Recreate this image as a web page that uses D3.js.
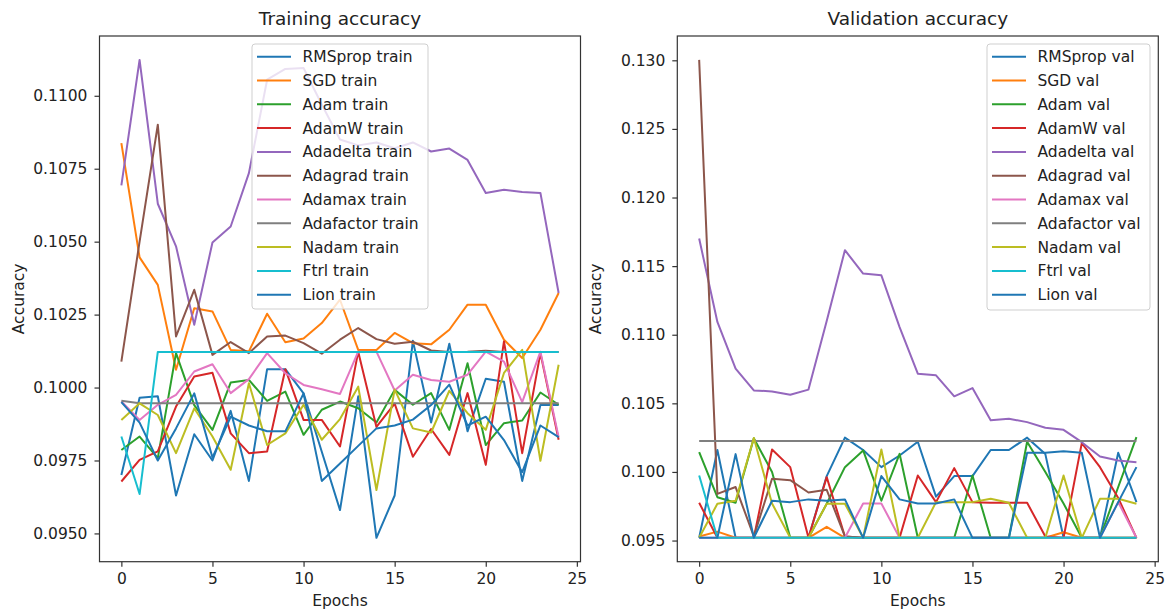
<!DOCTYPE html>
<html>
<head>
<meta charset="utf-8">
<script src="https://cdn.jsdelivr.net/npm/d3@7/dist/d3.min.js"></script>
<style>
    body { margin: 0; background: #fff; }
    svg { font-family: 'DejaVu Sans', sans-serif; }
    .series { fill: none; stroke-width: 2; stroke-linejoin: round; }
    .frame { fill: none; stroke: #333; stroke-width: 1.2; }
    .axis text { font-size: 15.5px; fill: #222; font-family: 'DejaVu Sans', sans-serif; }
    .axis line { stroke: #333; stroke-width: 1.2; }
    .legend-box { fill: #fff; fill-opacity: 0.8; stroke: #cfcfcf; stroke-width: 1; }
    .legend text { font-size: 15.5px; fill: #222; }
</style>
</head>
<body>
<svg id="chart" width="1167" height="613"></svg>
<script>
var epochs = d3.range(25);
var optimizers = ['RMSprop', 'SGD', 'Adam', 'AdamW', 'Adadelta', 'Adagrad', 'Adamax', 'Adafactor', 'Nadam', 'Ftrl', 'Lion'];

var rmspropTrain = [0.0970, 0.09965, 0.0997, 0.0963, 0.0984, 0.0975, 0.0992, 0.0968, 0.10063, 0.10063, 0.0998, 0.0978, 0.0958, 0.0997, 0.09485, 0.0963, 0.1016, 0.0988, 0.1015, 0.0985, 0.1003, 0.1002, 0.0968, 0.0994, 0.0994];
var sgdTrain = [0.10838, 0.10446, 0.10352, 0.10061, 0.10272, 0.10261, 0.10129, 0.10124, 0.10253, 0.10155, 0.10168, 0.10221, 0.10301, 0.10129, 0.10129, 0.10187, 0.10152, 0.10148, 0.10198, 0.10284, 0.10284, 0.10164, 0.10101, 0.10198, 0.10324];
var adamTrain = [0.09786, 0.09832, 0.09758, 0.10118, 0.0994, 0.09855, 0.10017, 0.10026, 0.09954, 0.09986, 0.09838, 0.09924, 0.09952, 0.09929, 0.0988, 0.09992, 0.09941, 0.09981, 0.09855, 0.10083, 0.09803, 0.09878, 0.09887, 0.09983, 0.09941];
var adamwTrain = [0.09678, 0.09752, 0.09781, 0.09935, 0.10038, 0.10051, 0.09843, 0.09775, 0.09781, 0.10063, 0.09889, 0.09889, 0.09798, 0.10123, 0.09865, 0.09945, 0.09763, 0.09858, 0.09769, 0.09981, 0.09735, 0.10158, 0.09775, 0.10118, 0.09821];
var adadeltaTrain = [0.10693, 0.11123, 0.1063, 0.10484, 0.10215, 0.10497, 0.10552, 0.10735, 0.11055, 0.11092, 0.11095, 0.1097, 0.1085, 0.1083, 0.1084, 0.1082, 0.1084, 0.10809, 0.10819, 0.1078, 0.10667, 0.10678, 0.1067, 0.10667, 0.10324];
var adagradTrain = [0.10089, 0.1050, 0.10901, 0.10175, 0.10335, 0.10112, 0.10156, 0.10118, 0.10175, 0.10178, 0.10152, 0.10116, 0.10164, 0.10204, 0.10166, 0.1015, 0.10157, 0.10127, 0.10122, 0.10123, 0.10126, 0.10122, 0.10122, 0.10122, 0.10122];
var adamaxTrain = [0.09952, 0.09889, 0.09941, 0.09975, 0.10055, 0.1008, 0.09981, 0.10029, 0.10118, 0.10049, 0.10009, 0.09994, 0.09978, 0.10123, 0.10123, 0.0999, 0.10044, 0.10026, 0.1002, 0.10044, 0.10123, 0.10089, 0.0995, 0.10123, 0.0983];
var adafactorTrain = [0.09955, 0.09946, 0.09946, 0.09946, 0.09946, 0.09946, 0.09946, 0.09946, 0.09946, 0.09946, 0.09946, 0.09946, 0.09946, 0.09946, 0.09946, 0.09946, 0.09946, 0.09946, 0.09946, 0.09946, 0.09946, 0.09946, 0.09946, 0.09946, 0.09946];
var nadamTrain = [0.09889, 0.09946, 0.09906, 0.09775, 0.09929, 0.09832, 0.09718, 0.10015, 0.09803, 0.09843, 0.09941, 0.09821, 0.09892, 0.10003, 0.09649, 0.09993, 0.0986, 0.09846, 0.09989, 0.09912, 0.09855, 0.1005, 0.10129, 0.09749, 0.10078];
var ftrlTrain = [0.09832, 0.09635, 0.10122, 0.10122, 0.10122, 0.10122, 0.10122, 0.10122, 0.10122, 0.10122, 0.10122, 0.10122, 0.10122, 0.10122, 0.10122, 0.10122, 0.10122, 0.10122, 0.10122, 0.10122, 0.10122, 0.10122, 0.10122, 0.10122, 0.10122];
var lionTrain = [0.0995, 0.0988, 0.0975, 0.0986, 0.0998, 0.0976, 0.0990, 0.0987, 0.0985, 0.0985, 0.0998, 0.0968, 0.0974, 0.0980, 0.0986, 0.0987, 0.0989, 0.0994, 0.1001, 0.0987, 0.0990, 0.0982, 0.0971, 0.0987, 0.0983];

var rmspropVal = [0.0952, 0.1016, 0.0952, 0.0952, 0.0952, 0.0952, 0.0952, 0.0997, 0.1025, 0.1016, 0.10035, 0.1012, 0.1022, 0.0982, 0.0997, 0.0997, 0.1016, 0.1016, 0.1025, 0.1013, 0.0952, 0.0952, 0.0952, 0.1014, 0.0978];
var sgdVal = [0.0953, 0.09565, 0.0952, 0.0952, 0.0952, 0.0952, 0.0952, 0.0960, 0.0952, 0.0952, 0.0952, 0.0952, 0.0952, 0.0952, 0.0952, 0.0952, 0.0952, 0.0952, 0.0952, 0.0952, 0.0956, 0.0952, 0.0952, 0.0952, 0.0952];
var adamVal = [0.10145, 0.09816, 0.09775, 0.10245, 0.1000, 0.0952, 0.0952, 0.09768, 0.10035, 0.10157, 0.0979, 0.10132, 0.0952, 0.0952, 0.0952, 0.09974, 0.0952, 0.0952, 0.1022, 0.1000, 0.0977, 0.0952, 0.0952, 0.0989, 0.10254];
var adamwVal = [0.09775, 0.0952, 0.0952, 0.0952, 0.10164, 0.10035, 0.0952, 0.09962, 0.0953, 0.0952, 0.0952, 0.0952, 0.09974, 0.0978, 0.10028, 0.0978, 0.09775, 0.09775, 0.09775, 0.0953, 0.0952, 0.1021, 0.10035, 0.0981, 0.0952];
var adadeltaVal = [0.11701, 0.11093, 0.10753, 0.10594, 0.10587, 0.10563, 0.106, 0.1110, 0.11616, 0.11446, 0.11433, 0.11056, 0.10716, 0.10704, 0.10551, 0.10611, 0.10376, 0.10388, 0.10363, 0.10322, 0.10307, 0.10217, 0.10113, 0.10084, 0.10071];
var adagradVal = [0.13003, 0.0984, 0.0989, 0.0953, 0.0995, 0.0994, 0.0985, 0.0987, 0.0953, 0.0952, 0.0952, 0.0952, 0.0952, 0.0952, 0.0952, 0.0952, 0.0952, 0.0952, 0.0952, 0.0952, 0.0952, 0.0952, 0.0952, 0.0952, 0.0952];
var adamaxVal = [0.0952, 0.0952, 0.0952, 0.0952, 0.0952, 0.0952, 0.0952, 0.0952, 0.0952, 0.0977, 0.0977, 0.0952, 0.0952, 0.0952, 0.0952, 0.0952, 0.0952, 0.0952, 0.0952, 0.0952, 0.0952, 0.0952, 0.0952, 0.0978, 0.0952];
var adafactorVal = [0.10225, 0.10225, 0.10225, 0.10225, 0.10225, 0.10225, 0.10225, 0.10225, 0.10225, 0.10225, 0.10225, 0.10225, 0.10225, 0.10225, 0.10225, 0.10225, 0.10225, 0.10225, 0.10225, 0.10225, 0.10225, 0.10225, 0.10225, 0.10225, 0.10225];
var nadamVal = [0.0952, 0.09768, 0.0979, 0.10247, 0.0977, 0.0952, 0.0952, 0.09768, 0.09768, 0.0952, 0.10164, 0.0952, 0.0952, 0.0978, 0.0978, 0.0978, 0.09804, 0.09775, 0.0952, 0.0952, 0.09974, 0.0952, 0.09804, 0.09804, 0.09768];
var ftrlVal = [0.09974, 0.0952, 0.0952, 0.0952, 0.0952, 0.0952, 0.0952, 0.0952, 0.0952, 0.0952, 0.0952, 0.0952, 0.0952, 0.0952, 0.0952, 0.0952, 0.0952, 0.0952, 0.0952, 0.0952, 0.0952, 0.0952, 0.0952, 0.0952, 0.0952];
var lionVal = [0.0952, 0.0952, 0.1013, 0.0952, 0.0979, 0.0978, 0.0980, 0.0979, 0.0980, 0.0952, 0.0997, 0.0980, 0.0977, 0.0977, 0.0980, 0.0952, 0.0952, 0.0952, 0.1014, 0.1014, 0.1015, 0.1014, 0.0952, 0.0978, 0.10035];

var trainSeries = [rmspropTrain, sgdTrain, adamTrain, adamwTrain, adadeltaTrain, adagradTrain, adamaxTrain, adafactorTrain, nadamTrain, ftrlTrain, lionTrain];
var valSeries = [rmspropVal, sgdVal, adamVal, adamwVal, adadeltaVal, adagradVal, adamaxVal, adafactorVal, nadamVal, ftrlVal, lionVal];

var xTicks = [0, 5, 10, 15, 20, 25];
var trainTicks = [0.0950, 0.0975, 0.1000, 0.1025, 0.1050, 0.1075, 0.1100];
var valTicks = [0.095, 0.100, 0.105, 0.110, 0.115, 0.120, 0.125, 0.130];

var palette = ['#1f77b4', '#ff7f0e', '#2ca02c', '#d62728', '#9467bd', '#8c564b', '#e377c2', '#7f7f7f', '#bcbd22', '#17becf'];

(function () {

    function Panel($svg, box) {
        this.$layer = $svg.append('g');
        this.box = box;

        // matplotlib style 5% margins round the data
        var ext = d3.extent(epochs),
            pad = (ext[1] - ext[0]) * 0.05;
        this.x = d3.scaleLinear()
            .domain([ext[0] - pad, ext[1] + pad])
            .range([box.left, box.right]);
    }

    Panel.prototype = {
        constructor: Panel,

        setSeries: function (series) {
            var all = d3.merge(series),
                lo = d3.min(all),
                hi = d3.max(all),
                pad = (hi - lo) * 0.05;

            this.series = series;
            this.y = d3.scaleLinear()
                .domain([lo - pad, hi + pad])
                .range([this.box.bottom, this.box.top]);

            return this;
        },

        drawAxes: function (yTicks, yFormat) {
            var box = this.box;

            this.$layer.append('g')
                .classed('axis', true)
                .attr('transform', 'translate(0,' + box.bottom + ')')
                .call(d3.axisBottom(this.x)
                    .tickValues(xTicks)
                    .tickFormat(d3.format('d'))
                    .tickSize(5)
                    .tickSizeOuter(0)
                    .tickPadding(6))
                .call(function (g) { g.select('.domain').remove(); });

            this.$layer.append('g')
                .classed('axis', true)
                .attr('transform', 'translate(' + box.left + ',0)')
                .call(d3.axisLeft(this.y)
                    .tickValues(yTicks)
                    .tickFormat(d3.format(yFormat))
                    .tickSize(5)
                    .tickSizeOuter(0)
                    .tickPadding(7))
                .call(function (g) { g.select('.domain').remove(); });

            return this;
        },

        drawLines: function () {
            var self = this,
                line = d3.line()
                    .x(function (d, i) { return self.x(epochs[i]); })
                    .y(function (d) { return self.y(d); });

            this.series.forEach(function (values, i) {
                self.$layer.append('path')
                    .classed('series', true)
                    .attr('stroke', palette[i % palette.length])
                    .attr('d', line(values));
            });

            this.$layer.append('rect')
                .classed('frame', true)
                .attr('x', this.box.left)
                .attr('y', this.box.top)
                .attr('width', this.box.right - this.box.left)
                .attr('height', this.box.bottom - this.box.top);

            return this;
        },

        drawLegend: function (suffix, lb) {
            var $legend = this.$layer.append('g').classed('legend', true);

            $legend.append('rect')
                .classed('legend-box', true)
                .attr('x', lb.x)
                .attr('y', lb.y)
                .attr('rx', 3)
                .attr('width', lb.w)
                .attr('height', lb.h);

            optimizers.forEach(function (name, i) {
                var cy = lb.y + 12.7 + i * 23.8;

                $legend.append('line')
                    .attr('x1', lb.x + 5)
                    .attr('x2', lb.x + 39)
                    .attr('y1', cy)
                    .attr('y2', cy)
                    .attr('stroke', palette[i % palette.length])
                    .attr('stroke-width', 2);

                $legend.append('text')
                    .attr('x', lb.x + 50.5)
                    .attr('y', cy)
                    .attr('dy', '0.36em')
                    .text(name + ' ' + suffix);
            });

            return this;
        },

        drawTitles: function (title) {
            var box = this.box,
                cx = (box.left + box.right) / 2,
                cy = (box.top + box.bottom) / 2;

            this.$layer.append('text')
                .attr('x', cx)
                .attr('y', 25)
                .attr('text-anchor', 'middle')
                .attr('font-size', '18.5px')
                .attr('fill', '#222')
                .text(title);

            this.$layer.append('text')
                .attr('x', cx)
                .attr('y', 606)
                .attr('text-anchor', 'middle')
                .attr('font-size', '15.5px')
                .attr('fill', '#222')
                .text('Epochs');

            this.$layer.append('text')
                .attr('transform', 'translate(' + (box.left - 76) + ',' + cy + ') rotate(-90)')
                .attr('text-anchor', 'middle')
                .attr('font-size', '15.5px')
                .attr('fill', '#222')
                .text('Accuracy');

            return this;
        }
    };

    var $svg = d3.select('#chart');

    new Panel($svg, {left: 99.5, right: 580.5, top: 36, bottom: 561.7})
        .setSeries(trainSeries)
        .drawLines()
        .drawAxes(trainTicks, '.4f')
        .drawLegend('train', {x: 252, y: 44, w: 176, h: 265})
        .drawTitles('Training accuracy');

    new Panel($svg, {left: 677.3, right: 1158.3, top: 36, bottom: 561.7})
        .setSeries(valSeries)
        .drawLines()
        .drawAxes(valTicks, '.3f')
        .drawLegend('val', {x: 987, y: 44, w: 163, h: 266})
        .drawTitles('Validation accuracy');

})();
</script>
</body>
</html>
